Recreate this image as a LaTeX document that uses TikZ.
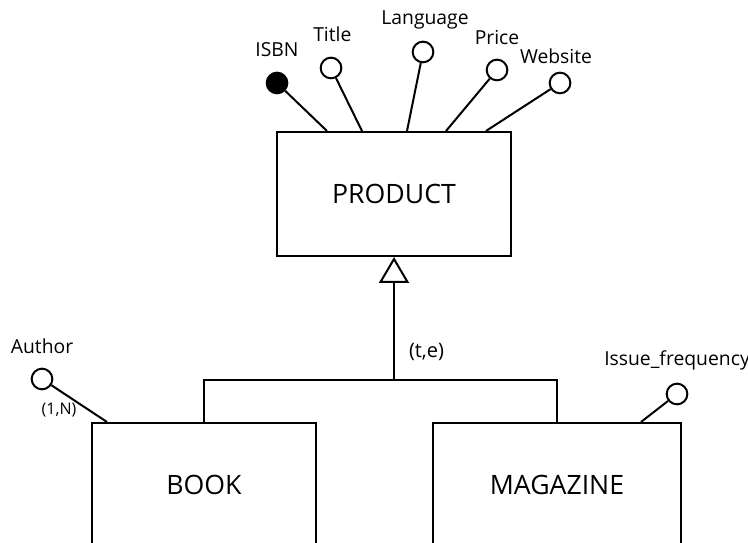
\documentclass[tikz,border=0pt]{standalone}
\usepackage{fontspec}
\setmainfont{Open Sans}
\usetikzlibrary{arrows.meta,calc,positioning}

\begin{document}
\begin{tikzpicture}[x=0.75pt,y=0.75pt,line width=1.5pt,
  entity/.style={draw,rectangle,minimum height=93pt,inner sep=0pt,font=\fontsize{20}{22}\selectfont},
  attr/.style={draw,circle,minimum size=15.5pt,inner sep=0pt},
  keyattr/.style={attr,fill=black},
  attrname/.style={inner sep=0pt,text depth=0pt,font=\fontsize{14.5}{16}\selectfont},
  card/.style={inner sep=0pt,font=\fontsize{12}{14}\selectfont}]

        \useasboundingbox (0,0) rectangle (748,542);
        \clip (0,0) rectangle (748,542);

        % entities
        \node[entity,minimum width=175.5pt] (product) at (394,348) {PRODUCT};
        \node[entity,minimum width=168pt] (book) at (204,57) {BOOK};
        \node[entity,minimum width=186pt] (magazine) at (557,57) {MAGAZINE};

        % attributes of PRODUCT
        \node[keyattr] (isbn) at (277,459) {};
        \node[attr] (title) at (331,474) {};
        \node[attr] (language) at (423,490) {};
        \node[attr] (price) at (497,472) {};
        \node[attr] (website) at (560,459) {};

        \node[attrname,above=10.5pt of isbn] (isbnlbl) {ISBN};
        \node[attrname,above=10.5pt of title,xshift=1pt] (titlelbl) {Title};
        \node[attrname,above=11.25pt of language,xshift=1.5pt] (languagelbl) {Language};
        \node[attrname,above=9.75pt of price] (pricelbl) {Price};
        \node[attrname,above=5.25pt of website,xshift=-3pt] (websitelbl) {Website};

        \foreach \a/\dx in {isbn/51,title/86,language/131,price/170,website/210}{
          \coordinate (\a top) at ($(product.north west)+(\dx,0)$);
          \draw (\a) -- (\a top);
        }

        % attributes of the children
        \node[attr] (author) at (42,163) {};
        \node[attrname,above=9.75pt of author] (authorlbl) {Author};
        \coordinate (author top) at ($(book.north west)+(16,0)$);
        \draw (author) -- (author top);
        \node[card] (authorcard) at (59,132) {(1,N)};

        \node[attr] (issue) at (677,148) {};
        \node[attrname,above=12pt of issue] (issuelbl) {Issue\_frequency};
        \coordinate (issue top) at ($(magazine.north east)+(-41,0)$);
        \draw (issue) -- (issue top);

        % generalization
        \coordinate (split) at (394,162);
        \draw (book.north) |- (split) -| (magazine.north);
        \draw[-{Triangle[open,length=19.5pt,width=22.5pt]}] (split) -- (product.south);
        \node[attrname,anchor=west,font=\fontsize{15}{17}\selectfont] (coverage) at (408,192) {(t,e)};
      \end{tikzpicture}
\end{document}
